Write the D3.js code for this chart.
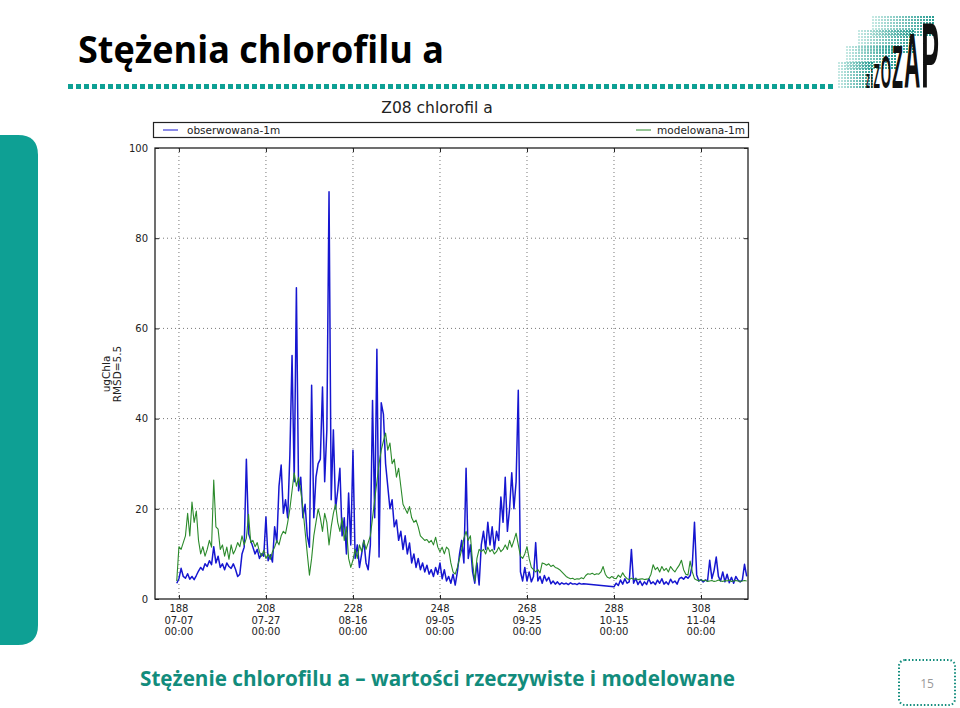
<!DOCTYPE html>
<html><head><meta charset="utf-8">
<script src="https://cdn.jsdelivr.net/npm/d3@7"></script>
<style>
html,body{margin:0;padding:0;background:#fff;}
svg{display:block;}
</style></head>
<body>
<svg id="c" width="960" height="708"></svg>
<script>
// ---- data ----
const pageTitle = "Stężenia chlorofilu a";
const chartTitle = "Z08 chlorofil a";
const caption = "Stężenie chlorofilu a – wartości rzeczywiste i modelowane";
const pageNumber = "15";
const seriesNames = ["obserwowana-1m", "modelowana-1m"];
const yLabelLines = ["ugChla", "RMSD=5.5"];
const yTicks = [0, 20, 40, 60, 80, 100];
const xTickDays = [188, 208, 228, 248, 268, 288, 308];
const xTickDates = ["07-07", "07-27", "08-16", "09-05", "09-25", "10-15", "11-04"];
const xTickTimes = ["00:00", "00:00", "00:00", "00:00", "00:00", "00:00", "00:00"];
const xDomain = [182.5, 318.8];
const yDomain = [0, 100];
// sampling: first day and step (days) of the value lists below
const firstDay = 187.5;
const dayStep = 0.5;
const observed = [
  3.5, 4.5, 6.8, 5.0, 4.6, 5.6, 4.4, 5.0, 4.3, 5.2,
  6.2, 7.0, 6.4, 7.8, 7.2, 8.5, 7.6, 11.6, 8.0, 9.5,
  7.0, 7.8, 6.5, 8.0, 7.2, 6.8, 7.8, 6.6, 5.0, 5.5,
  10.0, 11.5, 31.0, 14.5, 13.0, 11.5, 10.0, 11.0, 9.0, 10.0,
  9.5, 18.2, 8.5, 9.8, 8.2, 16.0, 12.5, 25.0, 29.7, 19.0,
  22.0, 18.0, 32.0, 54.0, 26.0, 69.0, 24.0, 27.0, 18.0, 21.0,
  14.0, 11.5, 47.4, 18.0, 27.0, 30.0, 31.0, 47.0, 26.0, 37.5,
  90.3, 22.0, 37.5, 20.0, 24.0, 29.0, 14.0, 18.0, 10.0, 23.5,
  12.0, 33.0, 9.0, 12.0, 7.0, 10.0, 13.0, 8.0, 6.5, 12.0,
  44.0, 18.0, 55.4, 9.3, 43.5, 41.0, 30.0, 25.0, 20.0, 22.0,
  16.0, 17.5, 13.0, 15.0, 11.0, 14.0, 10.0, 12.4, 8.0, 10.0,
  7.0, 9.0, 6.5, 8.0, 6.0, 7.5, 5.5, 6.5, 5.0, 7.0,
  5.5, 8.0, 4.5, 6.5, 4.0, 5.0, 3.5, 5.5, 3.1, 6.0,
  10.0, 13.0, 8.0, 29.0, 9.0, 12.0, 6.0, 3.5, 8.0, 3.1,
  12.0, 15.0, 11.0, 17.0, 12.0, 16.0, 11.0, 15.0, 13.0, 22.6,
  17.0, 27.0, 15.0, 20.0, 28.0, 20.0, 26.0, 46.3, 6.0, 4.0,
  7.0, 4.0, 6.0, 3.8, 5.0, 12.5, 4.0, 5.0, 3.5, 5.2,
  4.0, 4.8, 3.4, 4.0, 3.3, 3.8, 3.2, 3.6, 3.3, 3.5,
  3.2, 3.6, 3.3, 3.4, 3.2, 3.5, 3.3, 3.4, null, null,
  null, null, null, null, null, null, null, null, null, null,
  null, 2.7, 3.5, 3.0, 4.2, 3.3, 4.5, 3.5, 3.8, 11.0,
  3.5, 4.6, 3.2, 4.0, 3.0, 3.8, 3.2, 4.5, 3.4, 3.8,
  3.2, 4.2, 3.5, 4.5, 3.3, 3.8, 3.2, 4.4, 3.6, 4.0,
  3.3, 4.5, 4.8, 4.4, 5.0, 4.6, 5.2, 7.6, 17.0, 5.4,
  4.0, 4.3, 3.8, 4.2, 4.0, 8.6, 4.5, 6.3, 9.3, 5.0,
  4.0, 6.0, 3.8, 5.5, 3.6, 4.8, 3.5, 5.0, 4.2, 3.8,
  4.2, 7.7, 5.0
];
const modelled = [
  4.0, 11.6, 11.0, 12.5, 14.0, 19.0, 14.0, 21.5, 17.0, 19.5,
  13.0, 10.0, 11.6, 9.5, 11.0, 13.0, 11.5, 26.4, 16.0, 15.5,
  11.0, 12.0, 9.5, 11.5, 8.8, 12.0, 10.0, 11.0, 12.5, 11.6,
  14.0, 12.0, 13.5, 18.8, 12.5, 13.0, 11.6, 12.5, 10.5, 9.5,
  10.8, 9.0, 10.0, 8.8, 10.5, 11.5, 13.0, 12.0, 14.0, 15.0,
  14.5, 17.0, 20.0, 24.0, 28.0, 25.0, 27.0, 24.0, 20.0, 15.0,
  10.0, 5.3, 9.0, 14.0, 17.0, 20.0, 18.0, 15.0, 19.0, 17.0,
  12.0, 16.0, 19.0, 21.0, 17.0, 15.0, 18.0, 13.0, 16.0, 9.0,
  7.0, 8.6, 11.0, 9.0, 12.0, 10.5, 13.0, 11.0, 12.5, 14.0,
  18.0, 22.0, 26.0, 30.0, 33.0, 35.0, 36.8, 33.0, 34.6, 30.0,
  31.0, 27.0, 29.0, 25.0, 21.0, 20.0, 19.0, 20.5, 18.0, 17.0,
  17.5, 16.0, 14.0, 13.5, 13.0, 13.2, 12.5, 13.0, 12.0, 13.7,
  11.5, 10.5, 11.5, 10.0, 11.5, 11.0, 8.0, 6.0, 5.5, 7.0,
  9.0, 11.0, 13.5, 15.0, 13.0, 14.0, 8.0, 4.0, 9.0, 11.0,
  10.5, 11.0, 10.0, 11.5, 10.5, 11.0, 10.0, 10.5, 11.5, 10.5,
  11.0, 12.0, 11.0, 13.0, 11.5, 13.0, 14.6, 12.0, 9.5, 9.0,
  10.0, 11.6, 9.0, 7.0, 6.5, 6.0, 6.5, 5.8, 8.0, 7.8,
  7.5, 7.8, 7.2, 7.5, 7.0, 6.8, 6.5, 6.0, 5.5, 5.0,
  4.7, 4.5, 4.6, 4.3, 4.5, 4.4, 4.7, 4.5, 5.2, 5.6,
  5.5, 5.7, 5.4, 5.6, 5.5, 6.0, 7.2, 5.5, 4.8, 4.6,
  5.0, 4.6, 4.5, 5.3, 4.8, 5.8, 5.0, 4.5, 4.3, 4.6,
  4.4, 4.5, 4.3, 4.4, 4.5, 4.3, 4.4, 4.5, 5.5, 7.6,
  6.5, 7.0, 6.0, 7.2, 6.3, 6.8, 6.0, 7.2, 6.5, 6.0,
  6.8, 7.5, 8.6, 6.5, 5.5, 5.3, 8.4, 6.0, 4.5, 4.2,
  4.0, 4.3, 4.0, 4.2, 3.9, 4.0, 4.1, 3.9, 4.0, 4.2,
  4.0, 3.9, 4.1, 4.0, 4.2, 3.9, 4.0, 4.1, 4.0, 3.9,
  4.0, 4.1, 4.0
];
const seriesColors = ["#1616d0", "#2b8a2b"];
const logoText = ["z", "i", "Z", "O", "Z", "A", "P"];

// ---- drawing ----
const svg = d3.select("#c");
const teal = "#0ea094";
const tealDark = "#128c7c";

// left teal bar
svg.append("path")
  .attr("d", "M0,135 H18 Q38,135 38,155 V625 Q38,645 18,645 H0 Z")
  .attr("fill", teal);

// page title
svg.append("text").text(pageTitle)
  .attr("x", 78).attr("y", 63)
  .attr("font-family", "'Open Sans',sans-serif")
  .attr("font-weight", "bold").attr("font-size", 38)
  .attr("textLength", 366).attr("lengthAdjust", "spacingAndGlyphs")
  .attr("fill", "#000");

// dotted separator
svg.append("line")
  .attr("x1", 68).attr("x2", 834).attr("y1", 86.5).attr("y2", 86.5)
  .attr("stroke", teal).attr("stroke-width", 5).attr("stroke-dasharray", "5,3");

// logo (decorative squares + letters)
const logo = svg.append("g");
const blocks = [
  {x0: 872, x1: 934, y0: 16, y1: 36},
  {x0: 858, x1: 914, y0: 30, y1: 52},
  {x0: 846, x1: 896, y0: 46, y1: 68},
  {x0: 838, x1: 872, y0: 62, y1: 88}
];
blocks.forEach(b => {
  for (let yy = b.y0; yy < b.y1; yy += 3) {
    for (let xx = b.x0; xx < b.x1; xx += 3) {
      const t = (xx - b.x0) / (b.x1 - b.x0);
      logo.append("rect").attr("x", xx).attr("y", yy).attr("width", 2).attr("height", 2)
        .attr("fill", d3.interpolateRgb("#bfe6e0", "#0b8f84")(t))
        .attr("opacity", 0.9);
    }
  }
});
const logoSizes = [26, 26, 36, 46, 62, 78, 92];
const lt = logo.append("text")
  .attr("transform", "translate(866,88) scale(0.29,1)")
  .attr("font-family", "'Liberation Sans',sans-serif")
  .attr("font-weight", "bold").attr("fill", "#111");
logoText.forEach((c, i) => {
  lt.append("tspan").attr("font-size", logoSizes[i]).attr("dx", i ? 3 : 0).text(c);
});

// chart
const pLeft = 155, pRight = 748, pTop = 148, pBottom = 599;
const x = d3.scaleLinear().domain(xDomain).range([pLeft, pRight]);
const y = d3.scaleLinear().domain(yDomain).range([pBottom, pTop]);
const chartFont = "'DejaVu Sans',sans-serif";

svg.append("text").text(chartTitle)
  .attr("x", 437).attr("y", 113).attr("text-anchor", "middle")
  .attr("font-family", chartFont).attr("font-size", 15.5).attr("fill", "#222");

// legend
const lg = svg.append("g");
lg.append("rect").attr("x", 153.5).attr("y", 122.5).attr("width", 595).attr("height", 15)
  .attr("fill", "#fff").attr("stroke", "#222").attr("stroke-width", 1.2);
lg.append("line").attr("x1", 163).attr("x2", 178).attr("y1", 130).attr("y2", 130)
  .attr("stroke", seriesColors[0]).attr("stroke-width", 1);
lg.append("text").text(seriesNames[0]).attr("x", 187).attr("y", 134)
  .attr("font-family", chartFont).attr("font-size", 10.5).attr("fill", "#222");
lg.append("line").attr("x1", 636).attr("x2", 651).attr("y1", 130).attr("y2", 130)
  .attr("stroke", seriesColors[1]).attr("stroke-width", 1);
lg.append("text").text(seriesNames[1]).attr("x", 745).attr("y", 134).attr("text-anchor", "end")
  .attr("font-family", chartFont).attr("font-size", 10.5).attr("fill", "#222");

// grid
const grid = svg.append("g");
grid.selectAll(".gx").data(xTickDays).join("line")
  .attr("x1", d => x(d)).attr("x2", d => x(d)).attr("y1", pTop).attr("y2", pBottom)
  .attr("stroke", "#777").attr("stroke-width", 1).attr("stroke-dasharray", "1,3");
grid.selectAll(".gy").data(yTicks.slice(1, -1)).join("line")
  .attr("x1", pLeft).attr("x2", pRight).attr("y1", d => y(d)).attr("y2", d => y(d))
  .attr("stroke", "#777").attr("stroke-width", 1).attr("stroke-dasharray", "1,3");

// lines
svg.append("clipPath").attr("id", "clip").append("rect")
  .attr("x", pLeft).attr("y", pTop).attr("width", pRight - pLeft).attr("height", pBottom - pTop);
const toPts = arr => arr.map((v, i) => ({d: firstDay + i * dayStep, v}))
  .filter(p => p.v !== null);
const line = d3.line().x(p => x(p.d)).y(p => y(p.v));
const plot = svg.append("g").attr("clip-path", "url(#clip)");
plot.append("path").datum(toPts(observed)).attr("d", line)
  .attr("fill", "none").attr("stroke", seriesColors[0]).attr("stroke-width", 1.5)
  .attr("stroke-linejoin", "round");
plot.append("path").datum(toPts(modelled)).attr("d", line)
  .attr("fill", "none").attr("stroke", seriesColors[1]).attr("stroke-width", 1.1)
  .attr("stroke-linejoin", "round");

// frame
svg.append("rect").attr("x", pLeft).attr("y", pTop).attr("width", pRight - pLeft).attr("height", pBottom - pTop)
  .attr("fill", "none").attr("stroke", "#222").attr("stroke-width", 1.3);

// y axis
const ya = svg.append("g").attr("transform", `translate(${pLeft},0)`)
  .call(d3.axisLeft(y).tickValues(yTicks).tickSize(-4).tickPadding(7).tickFormat(d3.format("d")));
ya.select(".domain").remove();
ya.selectAll("text").attr("font-family", chartFont).attr("font-size", 10).attr("fill", "#222");
ya.selectAll("line").attr("stroke", "#222");
const yr = svg.append("g").attr("transform", `translate(${pRight},0)`)
  .call(d3.axisRight(y).tickValues(yTicks).tickSize(-4).tickFormat(""));
yr.select(".domain").remove();
yr.selectAll("line").attr("stroke", "#222");

// x axis
const xa = svg.append("g").attr("transform", `translate(0,${pBottom})`)
  .call(d3.axisBottom(x).tickValues(xTickDays).tickSize(-4).tickFormat(""));
xa.select(".domain").remove();
xa.selectAll("line").attr("stroke", "#222");
const xt = svg.append("g").attr("transform", `translate(0,${pTop})`)
  .call(d3.axisTop(x).tickValues(xTickDays).tickSize(-4).tickFormat(""));
xt.select(".domain").remove();
xt.selectAll("line").attr("stroke", "#222");
const xl = svg.append("g");
xTickDays.forEach((d, i) => {
  const t = xl.append("text").attr("x", x(d)).attr("text-anchor", "middle")
    .attr("font-family", chartFont).attr("font-size", 10).attr("fill", "#222");
  [String(d), xTickDates[i], xTickTimes[i]].forEach((s, k) => {
    t.append("tspan").attr("x", x(d)).attr("y", 612 + k * 11.5).text(s);
  });
});

// y label
yLabelLines.forEach((s, k) => {
  svg.append("text").text(s)
    .attr("transform", `translate(${110 + k * 10.5},374) rotate(-90)`)
    .attr("text-anchor", "middle")
    .attr("font-family", chartFont).attr("font-size", 10.5).attr("fill", "#222");
});

// caption
svg.append("text").text(caption)
  .attr("x", 140).attr("y", 686)
  .attr("font-family", "'Open Sans',sans-serif")
  .attr("font-weight", "bold").attr("font-size", 22)
  .attr("textLength", 595).attr("lengthAdjust", "spacingAndGlyphs")
  .attr("fill", tealDark);

// page number box
svg.append("rect").attr("x", 899).attr("y", 660).attr("width", 56).attr("height", 45)
  .attr("rx", 6).attr("fill", "none").attr("stroke", tealDark)
  .attr("stroke-width", 2).attr("stroke-dasharray", "1.5,2");
svg.append("text").text(pageNumber).attr("x", 927).attr("y", 688).attr("text-anchor", "middle")
  .attr("font-family", "'Open Sans',sans-serif").attr("font-size", 12).attr("fill", "#999");
</script>
</body></html>
